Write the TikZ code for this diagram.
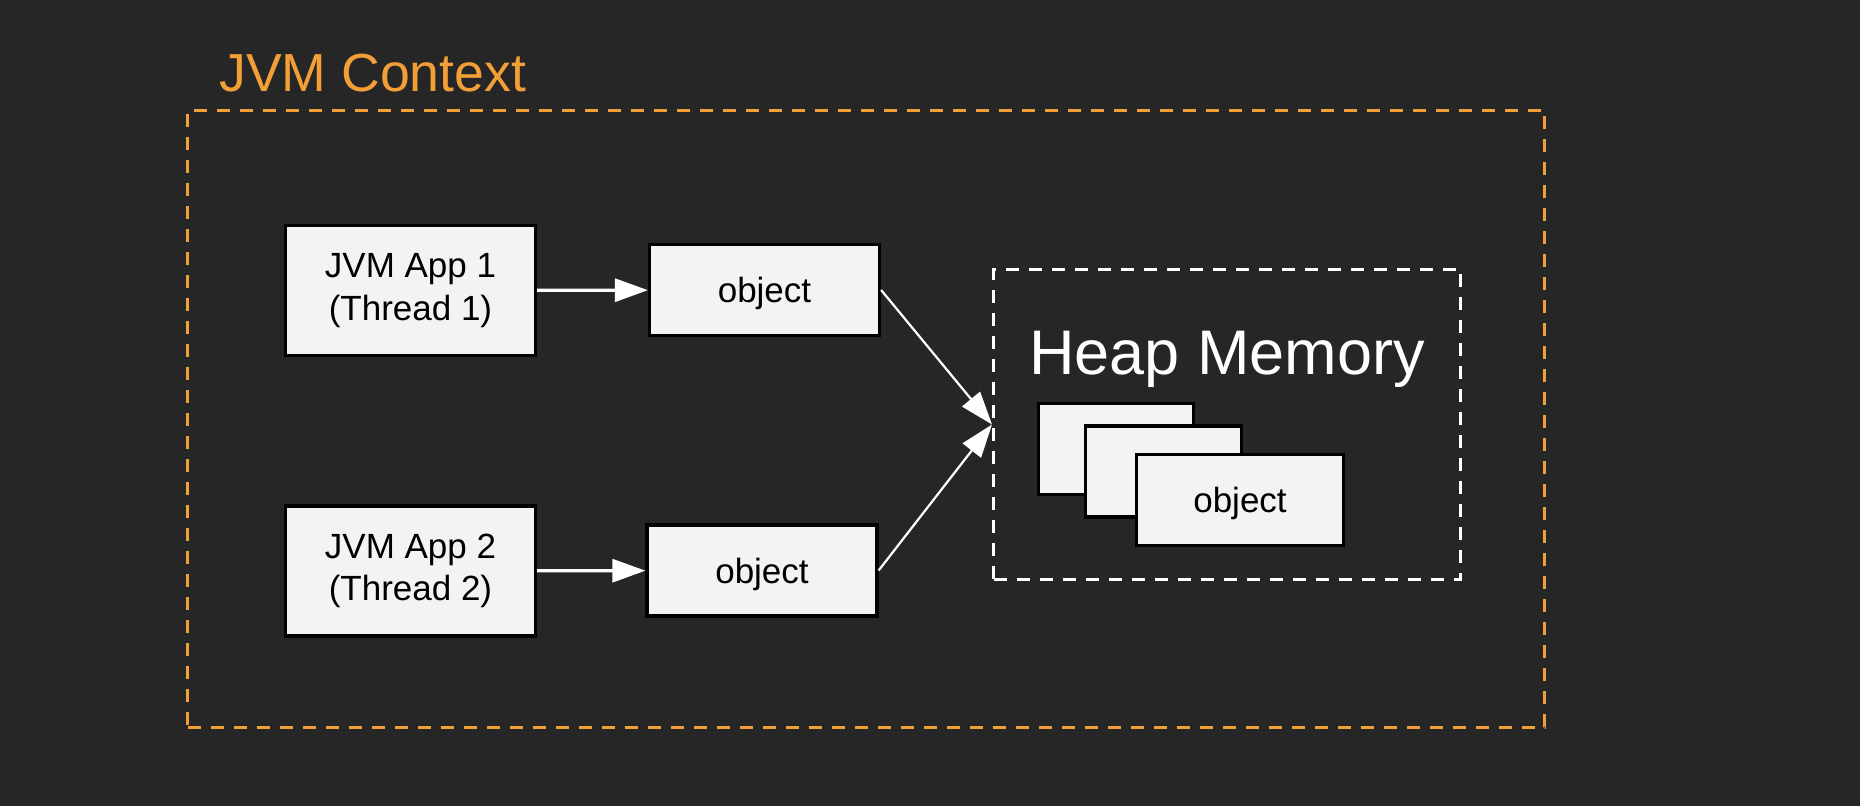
\documentclass[tikz,border=0pt]{standalone}
\usepackage{fontspec}
\setmainfont{Liberation Sans}
\usetikzlibrary{arrows.meta, positioning}
\definecolor{bgdark}{HTML}{262626}
\definecolor{jvmorange}{HTML}{F29F38}
\definecolor{boxgray}{HTML}{F3F3F3}
\tikzset{
x=0.5pt, y=-0.5pt, % one unit is one pixel of the drawing, y goes down
>={Triangle[length=16.5pt, width=11.5pt]}, % filled arrow heads
block/.style={draw=black, line width=1.6pt, fill=boxgray, inner sep=0pt, minimum height=45.5pt, align=center, font=\fontsize{17.5}{21.3}\selectfont, execute at begin node={\rule{0pt}{16.3pt}}}, % the light boxes
appblock/.style={block, minimum width=125pt, minimum height=65pt, execute at begin node={\rule{0pt}{18.5pt}}}, % the two thread boxes
region/.style={line width=1.5pt, dash pattern=on 6.5pt off 5pt, inner sep=0pt}, % dashed frames
link/.style={->, draw=white, line width=1.6pt}, % white connectors
}

\begin{document}
\begin{tikzpicture}
                \useasboundingbox[fill=bgdark] (0,0) rectangle (1860,806);

                % frames
                \node[region, draw=jvmorange, minimum width=678.5pt, minimum height=308.5pt] (jvm) at (866,419) {};
                \node[anchor=base west, inner sep=0pt, text=jvmorange, font=\fontsize{26.8}{30}\selectfont] (jvmlabel) at (219,92) {JVM Context};
                \node[region, draw=white, minimum width=233.5pt, minimum height=155pt] (heap) at (1227,424.5) {};
                \node[anchor=base, inner sep=0pt, text=white, font=\fontsize{31.5}{36}\selectfont] (heaplabel) at (1227,375) {Heap Memory};

                % threads and their objects
                \node[appblock] (app1) at (410.5,290.5) {JVM App 1\\(Thread 1)};
                \node[appblock] (app2) at (410.5,571) {JVM App 2\\(Thread 2)};
                \node[block, minimum width=115pt] (obj1) at (764.5,290) {object};
                \node[block, minimum width=115pt] (obj2) at (762,570.5) {object};

                % objects on the heap
                \node[block, minimum width=77.5pt] (heapobj1) at (1116,449) {};
                \node[block, minimum width=78pt] (heapobj2) at (1163.5,471.5) {};
                \node[block, minimum width=103.5pt] (heapobj3) at (1240,500) {object};

                \draw (app1) edge[link] (obj1);
                \draw (app2) edge[link] (obj2);
                \draw (obj1.east) edge[link, line width=1.1pt] (heap.west);
                \draw (obj2.east) edge[link, line width=1.1pt] (heap.west);
            \end{tikzpicture}
\end{document}
